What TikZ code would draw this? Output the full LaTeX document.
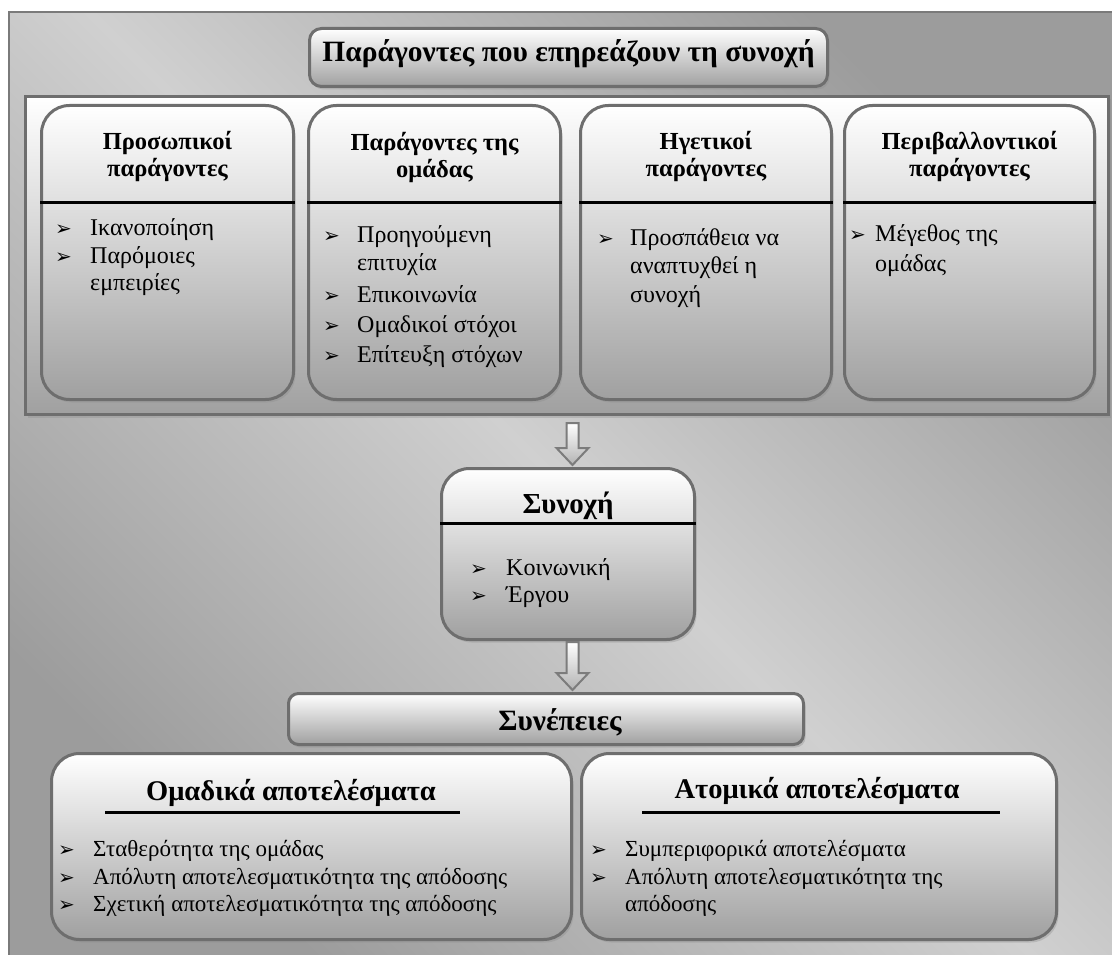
\documentclass[tikz,border=0pt]{standalone}
\usepackage{fontspec}
\setmainfont{Liberation Serif}
\newfontfamily\dingfont{DejaVu Sans}
\usetikzlibrary{shadows,calc}
\definecolor{bordc}{HTML}{6E6E6E}
\definecolor{framec}{HTML}{7A7A7A}
\definecolor{bgdark}{HTML}{9C9C9C}
\definecolor{bglight}{HTML}{D0D0D0}
\definecolor{boxbot}{HTML}{A0A0A0}
\definecolor{arrbord}{HTML}{7C7C7C}
\pgfdeclarehorizontalshading{bgshade}{100bp}{color(0bp)=(bgdark); color(25bp)=(bgdark); color(50bp)=(bglight); color(75bp)=(bgdark); color(100bp)=(bgdark)}
\tikzset{
  rbox/.style={draw=bordc, line width=3pt, top color=white, bottom color=boxbot,
    rounded corners=#1, inner sep=0pt, anchor=north west,
    drop shadow={shadow xshift=2pt, shadow yshift=-3pt, opacity=0.35, fill=black!45}},
  rbox/.default=28pt,
  hline/.style={black, line width=3pt},
  hd/.style={font=\fontsize{24.5}{28}\bfseries, anchor=base, inner sep=0pt},
  itx/.style={font=\fontsize{24}{28}\selectfont, anchor=base west, inner sep=0pt},
  itxs/.style={font=\fontsize{23}{27}\selectfont, anchor=base west, inner sep=0pt},
  bul/.style={font=\dingfont\fontsize{20}{20}\selectfont, anchor=base west, inner sep=0pt},
  bigt/.style={font=\fontsize{#1}{#1}\bfseries, anchor=base, inner sep=0pt},
  barrow/.style={draw=arrbord, line width=2pt, top color=white, bottom color=gray!60, line join=miter},
}
\newcommand\itm[6][itx]{\node[bul] (#2b) at (#3,#5) {➢}; \node[#1] (#2) at (#4,#5) {#6};}
\begin{document}
\begin{tikzpicture}[x=1pt,y=-1pt]
\useasboundingbox (0,0) rectangle (1112,955);
% background frame
\path[shading=bgshade, shading angle=45] (9,12) rectangle (1112,955);
\draw[framec, line width=2pt] (9,955) -- (9,12) -- (1112,12);
% title
\node[rbox=12pt, minimum width=518pt, minimum height=58pt] (title) at (308,27) {};
\node[bigt=29.5] (titlet) at (title.north |- 0,62) {Παράγοντες που επηρεάζουν τη συνοχή};
% panel
\node[rbox=0pt, minimum width=1083pt, minimum height=318pt] (panel) at (24,95) {};
% four boxes
\node[rbox, minimum width=252pt, minimum height=294pt] (b1) at (40,104) {};
\node[rbox, minimum width=252pt, minimum height=294pt] (b2) at (307,104) {};
\node[rbox, minimum width=251pt, minimum height=294pt] (b3) at (579,104) {};
\node[rbox, minimum width=250pt, minimum height=294pt] (b4) at (843,104) {};
\foreach \b in {b1,b2,b3,b4} { \draw[hline] (\b.west |- 0,203) -- (\b.east |- 0,203); }
% headers
\node[hd] (h1a) at (b1.north |- 0,150) {Προσωπικοί};
\node[hd] (h1b) at (b1.north |- 0,177) {παράγοντες};
\node[hd] (h2a) at (b2.north |- 0,151) {Παράγοντες της};
\node[hd] (h2b) at (b2.north |- 0,178) {ομάδας};
\node[hd] (h3a) at (b3.north |- 0,150) {Ηγετικοί};
\node[hd] (h3b) at (b3.north |- 0,177) {παράγοντες};
\node[hd] (h4a) at (b4.north |- 0,150) {Περιβαλλοντικοί};
\node[hd] (h4b) at (b4.north |- 0,177) {παράγοντες};
% items box 1
\itm{i11}{55}{90}{235}{Ικανοποίηση}
\itm{i12}{55}{90}{263}{Παρόμοιες}
\node[itx] (i12c) at (90,290) {εμπειρίες};
% items box 2
\itm{i21}{323}{357}{242}{Προηγούμενη}
\node[itx] (i21c) at (357,270) {επιτυχία};
\itm{i22}{323}{357}{302}{Επικοινωνία}
\itm{i23}{323}{357}{332}{Ομαδικοί στόχοι}
\itm{i24}{323}{357}{362}{Επίτευξη στόχων}
% items box 3
\itm{i31}{597}{630}{245}{Προσπάθεια να}
\node[itx] (i31c) at (630,273) {αναπτυχθεί η};
\node[itx] (i31d) at (630,302) {συνοχή};
% items box 4
\itm{i41}{849}{875}{241}{Μέγεθος της}
\node[itx] (i41c) at (875,271) {ομάδας};
% synoxi box
\node[rbox, minimum width=253pt, minimum height=171pt] (syn) at (440,467) {};
\draw[hline] (syn.west |- 0,523) -- (syn.east |- 0,523);
\node[bigt=29] (synt) at (syn.north |- 0,513) {Συνοχή};
\itm{s1}{470}{506}{575}{Κοινωνική}
\itm{s2}{470}{506}{602}{Έργου}
% arrow 1
\coordinate (a1s) at ($(panel.south -| syn.north)+(4.5,7)$);
\draw[barrow] (a1s) ++(-6,0) -- ++(12,0) -- ++(0,25) -- ++(10,0) -- ++(-16,17) -- ++(-16,-17) -- ++(10,0) -- cycle;
% arrow 2
\coordinate (a2s) at ($(syn.south)+(4.5,1)$);
\draw[barrow] (a2s) ++(-6,0) -- ++(12,0) -- ++(0,31) -- ++(10,0) -- ++(-16,17) -- ++(-16,-17) -- ++(10,0) -- cycle;
% synepeies
\node[rbox=10pt, minimum width=515pt, minimum height=51pt] (cons) at (287,692) {};
\node[bigt=29.5] (const) at (560,730) {Συνέπειες};
% bottom boxes
\node[rbox, minimum width=520pt, minimum height=186pt] (gl) at (50,752) {};
\node[rbox, minimum width=475pt, minimum height=186pt] (gr) at (580,752) {};
\node[bigt=28.5] (glt) at (291,800) {Ομαδικά αποτελέσματα};
\draw[hline] (105,812) -- (460,812);
\node[bigt=28.5] (grt) at (817,798) {Ατομικά αποτελέσματα};
\draw[hline] (642,812) -- (1000,812);
\itm[itxs]{l1}{58}{93}{856}{Σταθερότητα της ομάδας}
\itm[itxs]{l2}{58}{93}{884}{Απόλυτη αποτελεσματικότητα της απόδοσης}
\itm[itxs]{l3}{58}{93}{911}{Σχετική αποτελεσματικότητα της απόδοσης}
\itm[itxs]{r1}{590}{625}{856}{Συμπεριφορικά αποτελέσματα}
\itm[itxs]{r2}{590}{625}{884}{Απόλυτη αποτελεσματικότητα της}
\node[itxs] (r2c) at (625,911) {απόδοσης};
\end{tikzpicture}
\end{document}
